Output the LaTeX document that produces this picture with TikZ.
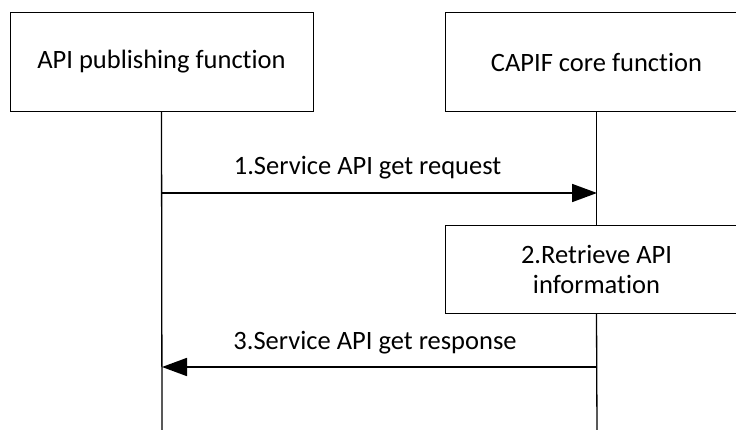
\documentclass[tikz,border=0pt]{standalone}
\usepackage{fontspec}
\setmainfont{Carlito}[Ligatures={NoCommon,NoDiscretionary,NoRare}]
\usetikzlibrary{arrows.meta}
\begin{document}
\begin{tikzpicture}[x=1pt,y=-1pt,
  entity/.style={draw,line width=1pt,minimum width=303pt,minimum height=99pt,inner sep=0pt,font=\fontsize{26.5}{30}\selectfont},
  procbox/.style={draw,line width=1pt,minimum width=303pt,minimum height=87.5pt,inner sep=0pt,align=center,font=\fontsize{26.5}{30}\selectfont},
  lifeline/.style={line width=1.3pt},
  msg/.style={line width=1.8pt,-{Triangle[length=25pt,width=18pt]}},
  lbl/.style={font=\fontsize{26.5}{30}\selectfont,inner sep=0pt,anchor=base}]
\useasboundingbox (0,0) rectangle (736,430);
\begin{scope}
\clip (0,0) rectangle (736,430);
\node[entity] (A) at (161.5,62) {API publishing function};
\node[entity] (B) at (596.5,62) {CAPIF core function};
\node[procbox] (C) at (596.5,269.75) {2.Retrieve API\\information};
\coordinate (Aend) at (162,432);
\coordinate (Cend) at (597,432);
\coordinate (a1) at (162,193);
\coordinate (b1) at (597,193);
\coordinate (a3) at (162,367);
\coordinate (b3) at (597,367);
\draw[lifeline] (A.south) -- (Aend);
\draw[lifeline] (B.south) -- (C.north);
\draw[lifeline] (C.south) -- (Cend);
\draw[msg] (a1) -- (b1);
\draw[msg] (b3) -- (a3);
\node[lbl] (L1) at (367.5,175) {1.Service API get request};
\node[lbl] (L3) at (375,349) {3.Service API get response};
\end{scope}
\end{tikzpicture}
\end{document}
